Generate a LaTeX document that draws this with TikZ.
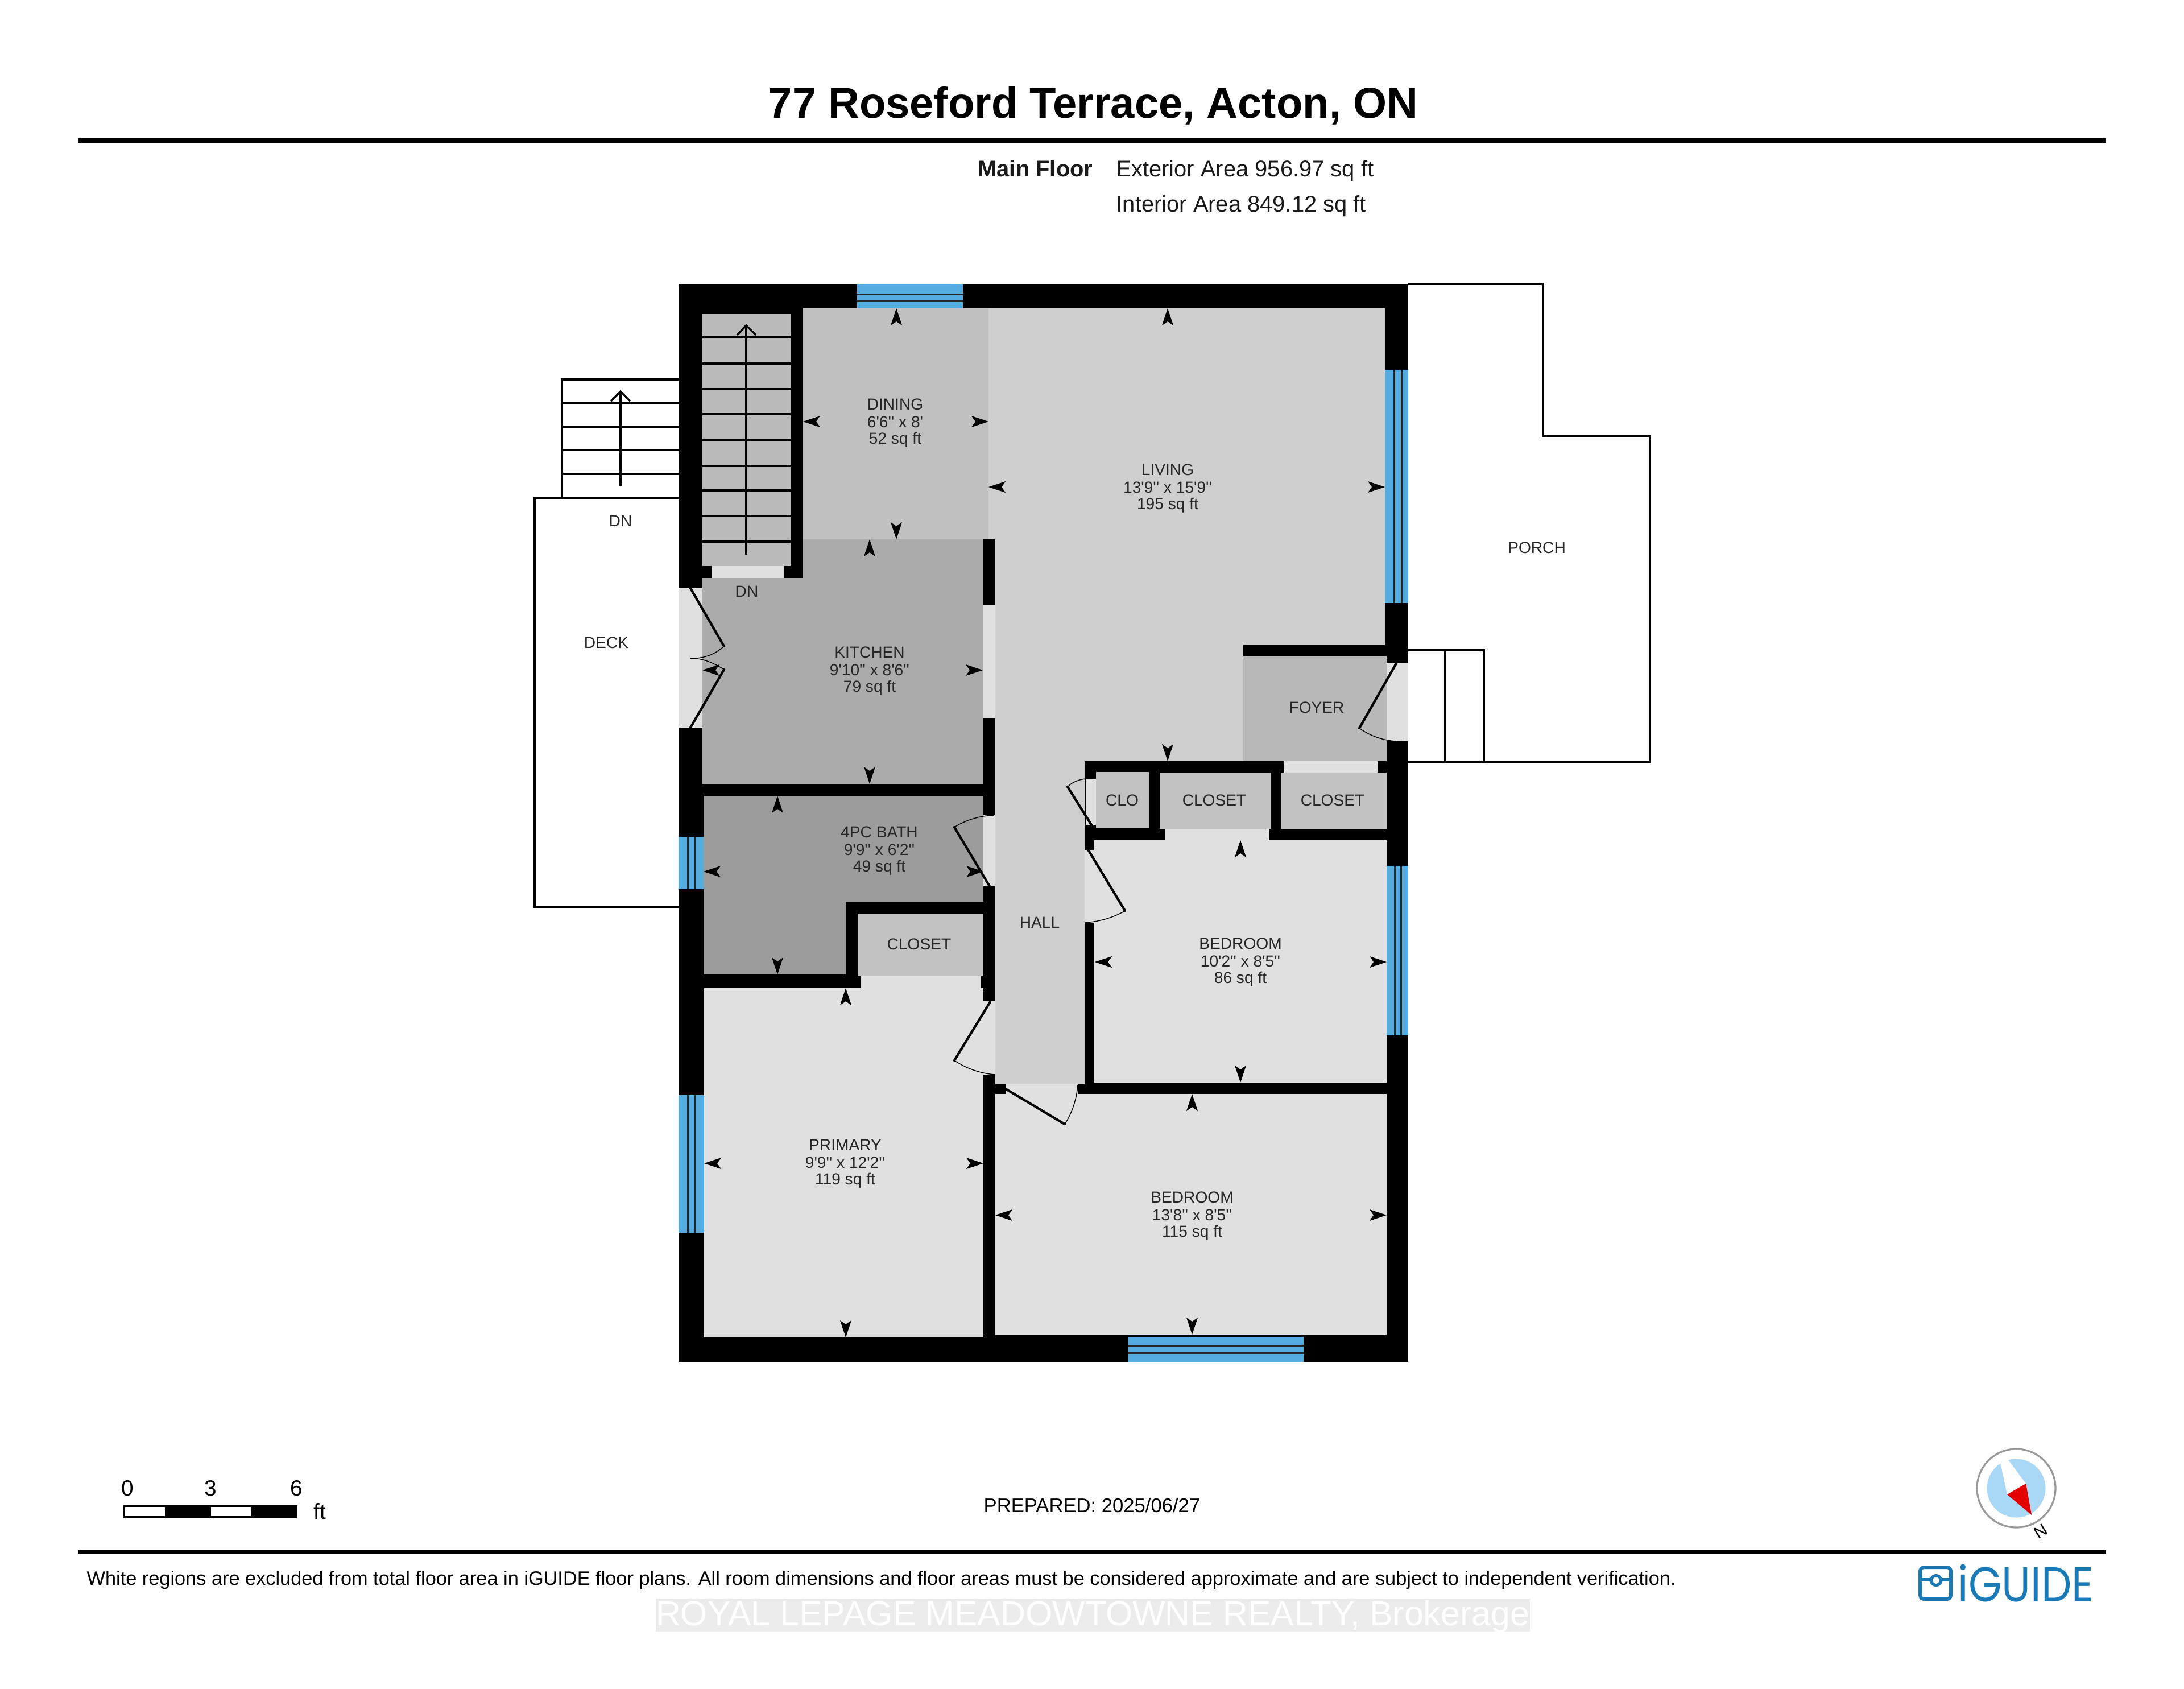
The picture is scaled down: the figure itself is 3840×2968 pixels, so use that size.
\documentclass[tikz,border=0pt]{standalone}
\usepackage{fontspec}
\setmainfont{Liberation Sans}
\newfontfamily\plainsans{Liberation Sans}
\newfontfamily\logofont{Poppins}
\definecolor{winc}{HTML}{55ACE0}
\definecolor{dinc}{HTML}{C0C0C0}
\definecolor{livc}{HTML}{CFCFCF}
\definecolor{kitc}{HTML}{ABABAB}
\definecolor{bathc}{HTML}{9C9C9C}
\definecolor{cloc}{HTML}{C2C2C2}
\definecolor{foyc}{HTML}{B8B8B8}
\definecolor{roomc}{HTML}{E0E0E0}
\definecolor{stairc}{HTML}{BABABA}
\definecolor{logoc}{HTML}{1A7AB8}
\definecolor{compc}{HTML}{A9D8F7}
\definecolor{wmband}{HTML}{ECECEC}
\tikzset{
  roomlabel/.style={font=\plainsans\fontsize{8}{9}\selectfont,inner sep=0pt,text=black!85},
  headlabel/.style={font=\fontsize{11.35}{13}\selectfont,inner sep=0pt,text=black!90},
  outline/.style={draw=black,line width=3.4pt*0.2845},
  treadline/.style={draw=black,line width=3.5pt*0.2845},
  swing/.style={draw=black,line width=1.4pt*0.2845},
  leaf/.style={draw=black,line width=4.2pt*0.2845,line cap=round},
  winline/.style={draw=black!85,line width=3pt*0.2845},
}
\newcommand{\tipU}[1]{\fill[black] (#1) -- ++(-10,30) -- ++(10,-7) -- ++(10,7) -- cycle;}
\newcommand{\tipD}[1]{\fill[black] (#1) -- ++(-10,-30) -- ++(10,7) -- ++(10,-7) -- cycle;}
\newcommand{\tipL}[1]{\fill[black] (#1) -- ++(30,-10) -- ++(-7,10) -- ++(7,10) -- cycle;}
\newcommand{\tipR}[1]{\fill[black] (#1) -- ++(-30,-10) -- ++(7,10) -- ++(-7,10) -- cycle;}
\newcommand{\blk}[2]{\fill[black] (#1) rectangle (#2);}
\newcommand{\threelines}[5]{\node[roomlabel] at (#1,#2) {#3}; \node[roomlabel] at (#1,#2+31) {#4}; \node[roomlabel] at (#1,#2+62) {#5};}
\begin{document}
\begin{tikzpicture}[x=0.01cm,y=-0.01cm]
\useasboundingbox (0,0) rectangle (3840,2968);
\fill[white] (0,0) rectangle (3840,2968);
% header
\node[inner sep=0pt,anchor=base,font=\fontsize{21.6}{24}\selectfont\bfseries] (title) at (1922,207) {77 Roseford Terrace, Acton, ON};
\fill[black] (137,243) rectangle (3703,251);
\node[headlabel,anchor=base east,font=\fontsize{11.35}{13}\selectfont\bfseries] (mf) at (1922,310) {Main Floor};
\node[headlabel,anchor=base west] (ext) at (1962,310) {Exterior Area 956.97 sq ft};
\node[headlabel,anchor=base west] (int) at (1962,372) {Interior Area 849.12 sq ft};
% white outlines: deck, deck stairs, porch
\draw[outline] (1193,875) -- (940,875) -- (940,1594) -- (1193,1594);
\draw[outline] (988,875) -- (988,667) -- (1193,667);
\foreach \yy in {708,750,791,833} {\draw[treadline] (988,\yy) -- (1193,\yy);}
\draw[treadline] (1091,854) -- (1091,690);
\draw[treadline] (1074,705) -- (1091,688) -- (1108,705);
\draw[outline] (2476,499) -- (2713,499) -- (2713,767) -- (2901,767) -- (2901,1340) -- (2476,1340);
\draw[outline] (2476,1143) -- (2609,1143) -- (2609,1340);
\draw[outline] (2541,1143) -- (2541,1340);
% outer wall mass
\blk{1193,500}{2476,2394}
% rooms
\fill[dinc] (1412,542) rectangle (1738,948);
\fill[livc] (1738,542) rectangle (2435,948);
\fill[livc] (1750,948) rectangle (2435,1134);
\fill[livc] (1750,1134) rectangle (2186,1338);
\fill[livc] (1750,1338) rectangle (1907,1906);
\fill[foyc] (2186,1153) rectangle (2438,1338);
\fill[kitc] (1412,948) rectangle (1728,1378);
\fill[kitc] (1235,1016) rectangle (1412,1378);
\fill[bathc] (1237,1399) rectangle (1729,1585);
\fill[bathc] (1237,1585) rectangle (1487,1713);
\fill[cloc] (1508,1606) rectangle (1729,1716);
\fill[roomc] (1238,1737) rectangle (1729,2351);
\fill[roomc] (1513,1716) rectangle (1725,1737);
\fill[roomc] (1729,1760) rectangle (1750,1889);
\fill[roomc] (1924,1477) rectangle (2438,1903);
\fill[roomc] (2048,1457) rectangle (2231,1477);
\fill[roomc] (1750,1923) rectangle (2438,2346);
\fill[roomc] (1768,1906) rectangle (1896,1923);
\fill[roomc] (1907,1495) rectangle (1925,1622);
\fill[roomc] (1729,1433) rectangle (1750,1558);
\fill[roomc] (1728,1064) rectangle (1750,1263);
\fill[roomc] (1193,1034) rectangle (1235,1279);
\fill[roomc] (2438,1166) rectangle (2476,1303);
\fill[roomc] (2257,1338) rectangle (2422,1358);
\fill[roomc] (1252,995) rectangle (1379,1016);
\fill[roomc] (1909,1369) rectangle (1927,1450);
\fill[cloc] (1927,1357) rectangle (2020,1456);
\fill[cloc] (2039,1358) rectangle (2235,1457);
\fill[cloc] (2252,1358) rectangle (2438,1457);
% stairs
\fill[stairc] (1235,552) rectangle (1390,995);
\foreach \yy in {593,639,684,728,774,819,862,907,952} {\draw[treadline] (1235,\yy) -- (1390,\yy);}
\draw[treadline] (1312,975) -- (1312,574);
\draw[treadline] (1296,589) -- (1312,572) -- (1329,589);
% windows
\fill[winc] (1507,500) rectangle (1693,542);
\draw[winline] (1507,517) -- (1693,517); \draw[winline] (1507,529) -- (1693,529);
\fill[winc] (2435,650) rectangle (2476,1060);
\draw[winline] (2451,650) -- (2451,1060); \draw[winline] (2464,650) -- (2464,1060);
\fill[winc] (2438,1522) rectangle (2476,1820);
\draw[winline] (2452,1522) -- (2452,1820); \draw[winline] (2463,1522) -- (2463,1820);
\fill[winc] (1193,1471) rectangle (1237,1563);
\draw[winline] (1209,1471) -- (1209,1563); \draw[winline] (1222,1471) -- (1222,1563);
\fill[winc] (1193,1925) rectangle (1238,2167);
\draw[winline] (1209,1925) -- (1209,2167); \draw[winline] (1222,1925) -- (1222,2167);
\fill[winc] (1984,2350) rectangle (2292,2394);
\draw[winline] (1984,2365) -- (2292,2365); \draw[winline] (1984,2378) -- (2292,2378);
% door leaves and swings
\draw[leaf] (1214,1034) -- (1273,1136);
\draw[swing] (1273,1136) .. controls (1255,1152) and (1235,1158) .. (1214,1157);
\draw[leaf] (1214,1279) -- (1273,1177);
\draw[swing] (1273,1177) .. controls (1255,1165) and (1235,1157) .. (1214,1157);
\draw[leaf] (2455,1166) -- (2390,1280);
\draw[swing] (2390,1280) .. controls (2412,1296) and (2440,1304) .. (2465,1303);
\draw[leaf] (1919,1450) -- (1877,1383);
\draw[swing] (1877,1383) .. controls (1885,1375) and (1897,1370) .. (1909,1369);
\draw[leaf] (1914,1495) -- (1978,1601);
\draw[swing] (1978,1601) .. controls (1958,1613) and (1933,1620) .. (1907,1622);
\draw[leaf] (1740,1558) -- (1678,1454);
\draw[swing] (1678,1454) .. controls (1697,1442) and (1722,1434) .. (1747,1433);
\draw[leaf] (1741,1761) -- (1678,1864);
\draw[swing] (1678,1864) .. controls (1697,1877) and (1722,1887) .. (1750,1889);
\draw[leaf] (1768,1914) -- (1872,1976);
\draw[swing] (1872,1976) .. controls (1885,1957) and (1893,1932) .. (1895,1907);
% dimension tips
\tipU{1576,542} \tipD{1576,948} \tipL{1412,741} \tipR{1738,741}
\tipU{2053,542} \tipD{2053,1338} \tipL{1738,856} \tipR{2435,856}
\tipU{1529,948} \tipD{1529,1378} \tipL{1235,1178} \tipR{1728,1178}
\tipU{1367,1399} \tipD{1367,1713} \tipL{1237,1532} \tipR{1729,1532}
\tipU{1487,1737} \tipD{1487,2351} \tipL{1238,2045} \tipR{1729,2045}
\tipU{2181,1477} \tipD{2181,1903} \tipL{1925,1691} \tipR{2438,1691}
\tipU{2096,1923} \tipD{2096,2346} \tipL{1750,2136} \tipR{2438,2136}
% room labels
\threelines{1574}{711}{DINING}{6'6'' x 8'}{52 sq ft}
\threelines{2053}{826}{LIVING}{13'9'' x 15'9''}{195 sq ft}
\threelines{1529}{1147}{KITCHEN}{9'10'' x 8'6''}{79 sq ft}
\threelines{1546}{1463}{4PC BATH}{9'9'' x 6'2''}{49 sq ft}
\threelines{1486}{2013}{PRIMARY}{9'9'' x 12'2''}{119 sq ft}
\threelines{2181}{1659}{BEDROOM}{10'2'' x 8'5''}{86 sq ft}
\threelines{2096}{2105}{BEDROOM}{13'8'' x 8'5''}{115 sq ft}
\node[roomlabel] (dn1) at (1091,916) {DN};
\node[roomlabel] (dn2) at (1313,1040) {DN};
\node[roomlabel] (deck) at (1066,1130) {DECK};
\node[roomlabel] (porch) at (2702,963) {PORCH};
\node[roomlabel] (foyer) at (2315,1244) {FOYER};
\node[roomlabel] (clo) at (1973,1407) {CLO};
\node[roomlabel] (cl1) at (2135,1407) {CLOSET};
\node[roomlabel] (cl2) at (2343,1407) {CLOSET};
\node[roomlabel] (cl3) at (1616,1660) {CLOSET};
\node[roomlabel] (hall) at (1828,1622) {HALL};
% scale bar
\fill[black] (217,2646) rectangle (523,2668);
\fill[white] (220,2649) rectangle (290,2665);
\fill[white] (371,2649) rectangle (441,2665);
\node[inner sep=0pt,font=\fontsize{11}{12}\selectfont] (s0) at (224,2616) {0};
\node[inner sep=0pt,font=\fontsize{11}{12}\selectfont] (s3) at (370,2616) {3};
\node[inner sep=0pt,font=\fontsize{11}{12}\selectfont] (s6) at (521,2616) {6};
\node[inner sep=0pt,font=\fontsize{11}{12}\selectfont] (sft) at (562,2657) {ft};
\node[inner sep=0pt,font=\fontsize{9.85}{12}\selectfont] (prep) at (1920,2646) {PREPARED: 2025/06/27};
% compass
\draw[draw=black!40,line width=0.9pt] (3545,2616) circle (69);
\fill[compc] (3545,2616) circle (51.5);
\fill[white] (3517,2571) -- (3562,2608) -- (3529,2627) -- cycle;
\fill[white] (3517,2571) -- (3530,2565) -- (3562,2608) -- cycle;
\fill[red!90!black] (3562,2608) -- (3572,2663) -- (3529,2627) -- cycle;
\node[inner sep=0pt,rotate=32,font=\fontsize{8.5}{9}\selectfont] (north) at (3588,2692) {N};
% footer
\fill[black] (137,2724) rectangle (3703,2732);
\node[inner sep=0pt,anchor=base west,font=\fontsize{9.76}{12}\selectfont] (foot) at (152,2786) {White regions are excluded from total floor area in iGUIDE floor plans. All room dimensions and floor areas must be considered approximate and are subject to independent verification.};
% logo
\draw[logoc,line width=1.7pt,rounded corners=2pt] (3376,2755) rectangle (3430,2811);
\draw[logoc,line width=1.5pt] (3376,2777) -- (3395,2777);
\draw[logoc,line width=1.5pt] (3411,2777) -- (3430,2777);
\draw[logoc,line width=1.5pt] (3404,2778) circle (8.5);
\node[anchor=west,inner sep=0pt,text=logoc,font=\logofont\fontsize{24.5}{26}\selectfont] (logo) at (3442,2783) {\scalebox{0.875}[1]{iGUIDE}};
% watermark
\fill[wmband] (1153,2810) rectangle (2690,2868);
\node[inner sep=0pt,anchor=base,text=white,font=\fontsize{17.3}{18}\selectfont] (wm) at (1921,2857) {ROYAL LEPAGE MEADOWTOWNE REALTY, Brokerage};
\end{tikzpicture}
\end{document}
